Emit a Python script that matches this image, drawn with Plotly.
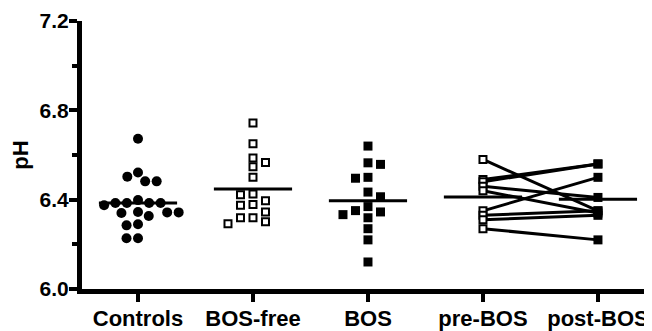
import math
import plotly.graph_objects as go

# ---------------- data ----------------
categories = ["Controls", "BOS-free", "BOS", "pre-BOS", "post-BOS"]

controls = [6.673, 6.522, 6.482, 6.482, 6.503,
            6.385, 6.385, 6.398, 6.385, 6.375, 6.385,
            6.343, 6.343, 6.345, 6.340, 6.327,
            6.290, 6.285, 6.227, 6.227]
bos_free = [6.743, 6.650, 6.587, 6.547, 6.566, 6.500, 6.422, 6.425,
            6.395, 6.375, 6.378, 6.345, 6.319, 6.319, 6.301, 6.292]
bos = [6.640, 6.565, 6.558, 6.496, 6.500, 6.434, 6.413, 6.369,
       6.345, 6.333, 6.351, 6.319, 6.270, 6.220, 6.121]
pre_bos = [6.58, 6.49, 6.48, 6.46, 6.44, 6.35, 6.33, 6.31, 6.27]
post_bos = [6.35, 6.56, 6.56, 6.41, 6.34, 6.50, 6.35, 6.33, 6.22]

y_ticks = [6.0, 6.4, 6.8, 7.2]

# ---------------- figure geometry ----------------
# (page body has an 8px default margin; figure is sized to fit the window)
W, H = 644, 323
M_L, M_R, M_T, M_B = 74, 0, 13, 40
X_RANGE = [-0.487, 4.47]
Y_RANGE = [6.0, 7.2]
px_x = (W - M_L - M_R) / (X_RANGE[1] - X_RANGE[0])
px_y = (H - M_T - M_B) / (Y_RANGE[1] - Y_RANGE[0])


def swarm_grid(values, col_px=12.5, min_dy=9.0):
    """Column-grid beeswarm: returns x offsets (data units)."""
    placed = []
    res = [0.0] * len(values)
    order = sorted(range(len(values)), key=lambda i: -values[i])
    for i in order:
        y = values[i] * px_y
        left = sum(1 for c, _ in placed if c < 0)
        right = sum(1 for c, _ in placed if c > 0)
        cands = [0]
        for k in range(1, 8):
            cands += [k, -k] if right <= left else [-k, k]
        for k in cands:
            if all(not (c == k and abs(y - yy) < min_dy) for c, yy in placed):
                break
        placed.append((k, y))
        res[i] = k * col_px / px_x
    return res


def swarm_round(values, d=11.0):
    """Continuous beeswarm (circle packing) in pixel space."""
    placed = []
    res = [0.0] * len(values)
    order = sorted(range(len(values)), key=lambda i: -values[i])
    for i in order:
        y = values[i] * px_y
        cands = [0.0]
        for xx, yy in placed:
            dy = abs(y - yy)
            if dy < d:
                dx = math.sqrt(d * d - dy * dy)
                cands += [xx + dx, xx - dx]
        ok = [c for c in cands
              if all((c - xx) ** 2 + (y - yy) ** 2 >= d * d - 1e-6 for xx, yy in placed)]
        best = min(ok, key=lambda c: (abs(c), c))
        placed.append((best, y))
        res[i] = best / px_x
    return res


def mean(v):
    return sum(v) / len(v)


fig = go.Figure()

# paired lines pre -> post
for a, b in zip(pre_bos, post_bos):
    fig.add_trace(go.Scatter(x=[3, 4], y=[a, b], mode="lines",
                             line=dict(color="black", width=3),
                             hoverinfo="skip", showlegend=False))

# mean lines
half = 0.34
groups = [controls, bos_free, bos, pre_bos, post_bos]
for i, g in enumerate(groups):
    m = mean(g)
    fig.add_trace(go.Scatter(x=[i - half, i + half], y=[m, m], mode="lines",
                             line=dict(color="black", width=3),
                             hoverinfo="skip", showlegend=False))

# Controls: filled circles
off = swarm_round(controls, d=11.5)
fig.add_trace(go.Scatter(x=[0 + o for o in off], y=controls, mode="markers",
                         marker=dict(symbol="circle", size=10, color="black",
                                     line=dict(width=0)),
                         showlegend=False))

# BOS-free: open squares
off = swarm_grid(bos_free)
fig.add_trace(go.Scatter(x=[1 + o for o in off], y=bos_free, mode="markers",
                         marker=dict(symbol="square", size=7, color="white",
                                     line=dict(color="black", width=2)),
                         showlegend=False))

# BOS: filled squares
off = swarm_grid(bos)
fig.add_trace(go.Scatter(x=[2 + o for o in off], y=bos, mode="markers",
                         marker=dict(symbol="square", size=9, color="black",
                                     line=dict(width=0)),
                         showlegend=False))

# pre-BOS: open squares (paired, no jitter)
fig.add_trace(go.Scatter(x=[3] * len(pre_bos), y=pre_bos, mode="markers",
                         marker=dict(symbol="square", size=7, color="white",
                                     line=dict(color="black", width=2)),
                         showlegend=False))

# post-BOS: filled squares
fig.add_trace(go.Scatter(x=[4] * len(post_bos), y=post_bos, mode="markers",
                         marker=dict(symbol="square", size=9, color="black",
                                     line=dict(width=0)),
                         showlegend=False))

FONT = "Liberation Sans"
fig.update_layout(
    width=W, height=H,
    margin=dict(l=M_L, r=M_R, t=M_T, b=M_B, pad=0),
    plot_bgcolor="white", paper_bgcolor="white",
    showlegend=False,
    font=dict(family=FONT, color="black"),
    xaxis=dict(
        range=X_RANGE, tickmode="array", tickvals=list(range(len(categories))),
        ticktext=categories, ticks="outside", ticklen=8, tickwidth=4,
        tickcolor="black", showline=True, linewidth=5, linecolor="black",
        showgrid=False, zeroline=False, ticklabelstandoff=-2,
        tickfont=dict(family=FONT, size=22, weight="bold", color="black"),
    ),
    yaxis=dict(
        range=Y_RANGE, tickmode="array", tickvals=y_ticks,
        ticktext=[f"{v:.1f}" for v in y_ticks], ticks="outside", ticklen=8,
        tickwidth=4, tickcolor="black", showline=True, linewidth=5,
        linecolor="black", showgrid=False, zeroline=False,
        ticklabelstandoff=-4,
        minor=dict(dtick=0.2, tick0=6.0, ticks="outside", ticklen=5,
                   tickwidth=4, tickcolor="black", showgrid=False),
        tickfont=dict(family=FONT, size=21, weight="bold", color="black"),
        title=dict(text="pH", standoff=7,
                   font=dict(family=FONT, size=22, weight="bold", color="black")),
    ),
)

fig.write_html("out.html")
